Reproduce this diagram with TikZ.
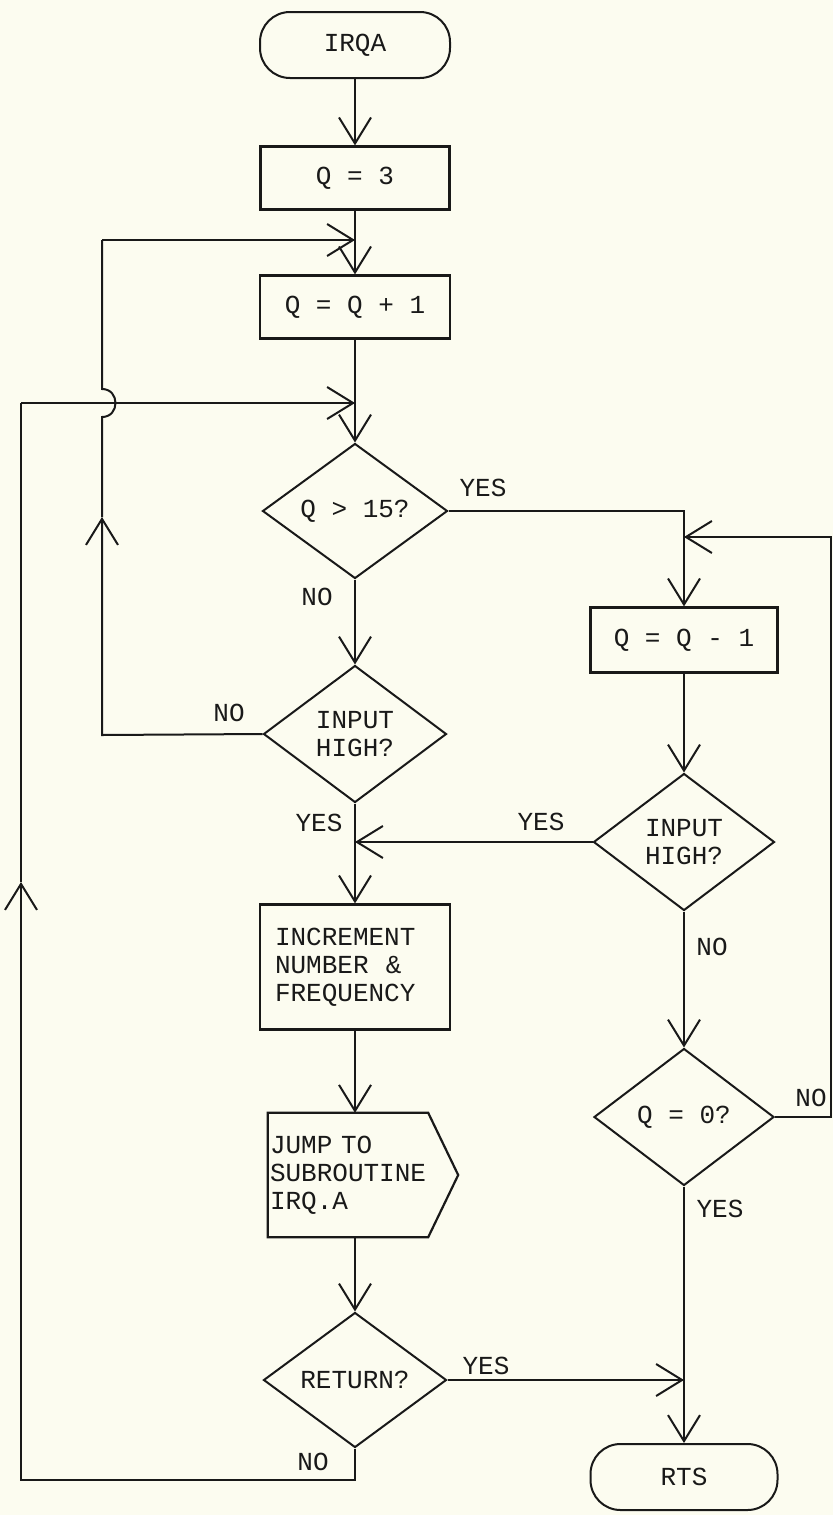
\documentclass[tikz,border=0pt]{standalone}
\usepackage{fontspec}
\setmainfont{Liberation Mono}
\usetikzlibrary{arrows.meta,shapes.geometric,calc}
\definecolor{paper}{RGB}{252,252,240}
\definecolor{ink}{RGB}{25,25,25}
\newcommand\dfont{\fontsize{26}{28}\selectfont}
\begin{document}
\begin{tikzpicture}[x=1pt,y=-1pt,
  line/.style={draw=ink, line width=2pt},
  arr/.style={line, -{Straight Barb[length=26pt,width=32pt]}},
  box/.style={draw=ink, line width=2.2pt, rectangle, inner sep=0pt, font=\dfont, text=ink},
  dec/.style={draw=ink, line width=2pt, diamond, inner sep=0pt, font=\dfont, align=center, text=ink},
  term/.style={draw=ink, line width=2pt, rectangle, rounded corners=30pt, minimum width=190pt, minimum height=66pt, font=\dfont, text=ink},
  lab/.style={font=\dfont, inner sep=0pt, text=ink}]
\fill[paper] (0,0) rectangle (833,1515);
\useasboundingbox (0,0) rectangle (833,1515);

% left column
\node[term] (irqa) at (355,45) {IRQA};
\node[box, minimum width=189pt, minimum height=63pt] (q3) at (355,178) {Q = 3};
\node[box, minimum width=190pt, minimum height=63pt] (qp1) at (355,307) {Q = Q + 1};
\node[dec, minimum width=185pt, minimum height=135pt] (q15) at (355,511) {Q > 15?};
\node[dec, minimum width=183pt, minimum height=137pt] (ih1) at (355,734) {INPUT\\HIGH?};
\node[box, minimum width=190pt, minimum height=125pt, text width=160pt, align=left] (inc) at (355,967) {INCREMENT\\NUMBER~~\&\\FREQUENCY};
\node[minimum width=160pt, minimum height=124pt, inner sep=0pt, text width=156pt, align=left, font=\dfont, text=ink] (jump) at (348,1175) {JUMP TO\\SUBROUTINE\\IRQ.A};
\draw[line, line width=2.2pt] (jump.north west) -- (jump.north east) -- ($(jump.east)+(30,0)$) -- (jump.south east) -- (jump.south west) -- cycle;
\node[dec, minimum width=183pt, minimum height=135pt] (ret) at (355,1380) {RETURN?};

% right column
\node[box, minimum width=187pt, minimum height=65pt] (qm1) at (684,640) {Q = Q - 1};
\node[dec, minimum width=181pt, minimum height=137pt] (ih2) at (684,842) {INPUT\\HIGH?};
\node[dec, minimum width=180pt, minimum height=137pt] (q0) at (684,1117) {Q = 0?};
\node[term, minimum width=187pt] (rts) at (684,1477) {RTS};

% junction coordinates
\coordinate (jA) at (355,240);
\coordinate (jB) at (355,403);
\coordinate (jC) at (684,537);
\coordinate (L1) at (102,735);
\coordinate (L2) at (102,517);
\coordinate (L3) at (102,417);
\coordinate (L4) at (102,389);
\coordinate (L5) at (102,240);
\coordinate (O1) at (355,1480);
\coordinate (O2) at (21,1480);
\coordinate (O3) at (21,882);
\coordinate (O4) at (21,403);
\coordinate (R1) at (831,1117);
\coordinate (R2) at (831,537);

% main flow
\draw[arr] (irqa.south) -- (q3.north);
\draw[arr] (q3.south) -- (qp1.north);
\draw[arr] (qp1.south) -- (q15.north);
\draw[arr] (q15.south) -- (ih1.north);
\draw[arr] (ih1.south) -- (inc.north);
\draw[arr] (inc.south) -- (inc.south |- jump.north);
\draw[arr] (inc.south |- jump.south) -- (ret.north);
\draw[arr] (q15.east) -| (qm1.north);
\draw[arr] (qm1.south) -- (ih2.north);
\draw[arr] (ih2.south) -- (q0.north);
\draw[arr] (q0.south) -- (rts.north);
\draw[arr] (ih2.west) -- (ih2.west -| ih1.south);
\draw[arr] (ret.east) -- (ret.east -| rts.north);
\draw[arr] (q0.east) -- (R1) -- (R2) -- (jC);

% inner loop (INPUT HIGH? NO)
\draw[arr] (ih1.west) -- (L1) -- (L2);
\draw[line] (L2) -- (L3) .. controls (120,417) and (120,389) .. (L4) -- (L5);
\draw[arr] (L5) -- (jA);

% outer loop (RETURN? NO)
\draw[arr] (ret.south) -- (O1) -- (O2) -- (O3);
\draw[line] (O3) -- (O4);
\draw[arr] (O4) -- (jB);

% labels
\node[lab] (t1) at (483,488) {YES};
\node[lab] (t2) at (317,597) {NO};
\node[lab] (t3) at (229,713) {NO};
\node[lab] (t4) at (319,823) {YES};
\node[lab] (t5) at (541,822) {YES};
\node[lab] (t6) at (712,947) {NO};
\node[lab] (t7) at (811,1098) {NO};
\node[lab] (t8) at (720,1209) {YES};
\node[lab] (t9) at (486,1366) {YES};
\node[lab] (t10) at (313,1462) {NO};
\end{tikzpicture}
\end{document}
